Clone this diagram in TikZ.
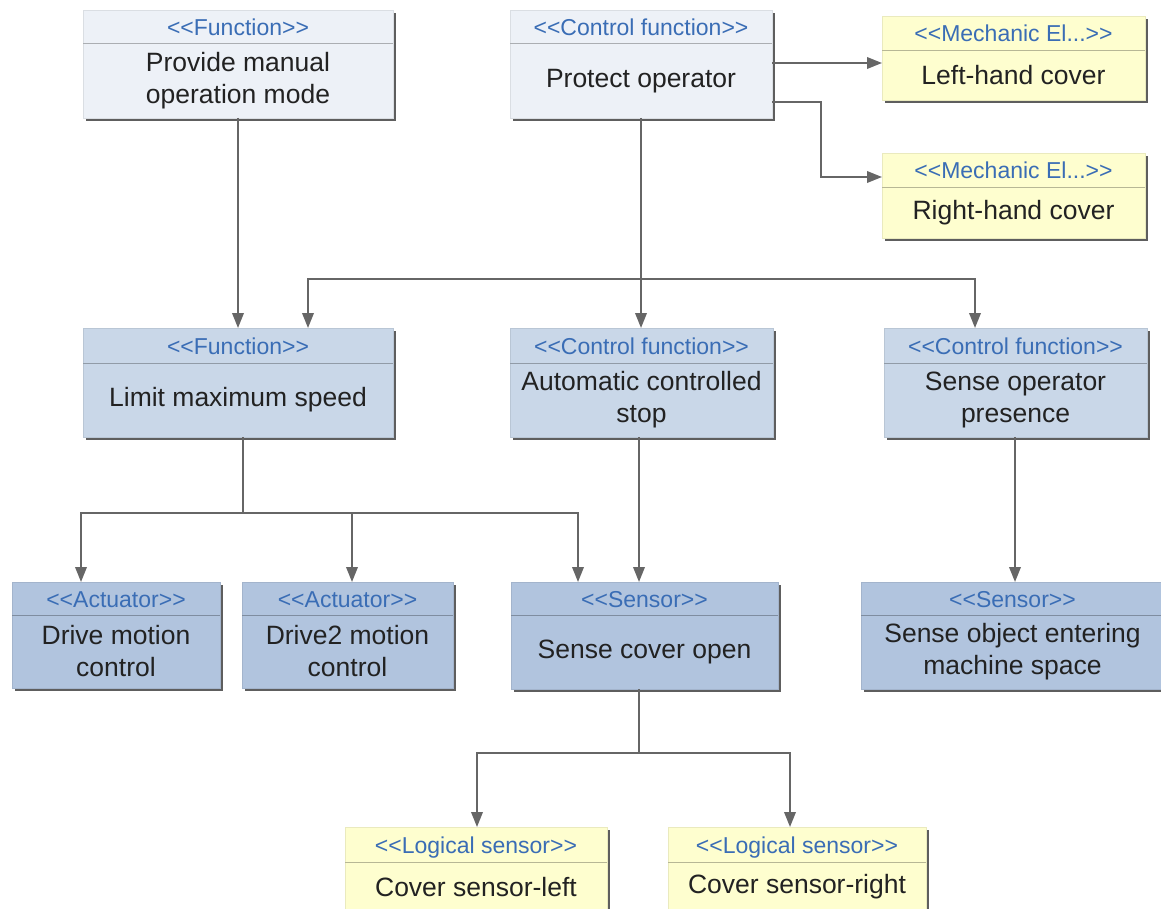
\documentclass[tikz,border=0pt]{standalone}
\usepackage{fontspec}
\setmainfont{Liberation Sans}
\usetikzlibrary{arrows.meta,shadows,calc}
\definecolor{cLight}{HTML}{EDF1F7}
\definecolor{cYel}{HTML}{FEFECF}
\definecolor{cMid}{HTML}{C9D7E8}
\definecolor{cDark}{HTML}{B1C4DE}
\definecolor{cSter}{HTML}{3A6DB5}
\definecolor{cText}{HTML}{222222}
\definecolor{cLine}{HTML}{666666}
\definecolor{cShad}{HTML}{5E5E5E}
\tikzset{
  umlbox/.style={rectangle, inner sep=0pt, outer sep=0pt, draw=#1!92!black, line width=0.4pt, fill=#1,
    drop shadow={shadow xshift=2.8pt, shadow yshift=-2.8pt, fill=cShad, opacity=1, draw=none}},
  hdrline/.style={line width=1pt},
  stereo/.style={inner sep=0pt, text=cSter, font=\fontsize{23}{28}\selectfont, text height=17pt, text depth=0pt},
  maintext/.style={inner sep=0pt, text=cText, align=center, font=\fontsize{26.5}{32}\selectfont},
  conn/.style={draw=cLine, line width=2pt, -{Triangle[length=15pt,width=11.5pt]}},
  wire/.style={draw=cLine, line width=2pt}
}
\newcommand\umlbox[9]{%
  \node[umlbox=#7, minimum width={#4-#2}, minimum height={#5-#3}] (#1) at ({(#2+#4)/2},{(#3+#5)/2}) {};
  \draw[hdrline, draw=#7!72!black] (#2,#6) -- (#4,#6);
  \node[stereo] (#1-st) at ({(#2+#4)/2},{(#3+#6)/2}) {<{}<#8>{}>};
  \node[maintext] (#1-tx) at ({(#2+#4)/2},{(#6+#5)/2}) {#9};
}
\begin{document}
\begin{tikzpicture}[x=1pt,y=-1pt]
\useasboundingbox (0,0) rectangle (1161,909);
\clip (0,0) rectangle (1161,909);
\fill[white] (0,0) rectangle (1161,909);

\umlbox{prov}{83}{10}{393}{118}{44}{cLight}{Function}{Provide manual\\operation mode}
\umlbox{prot}{510}{10}{772}{118}{44}{cLight}{Control function}{Protect operator}
\umlbox{lcov}{882}{16}{1145}{100}{51}{cYel}{Mechanic El...}{Left-hand cover}
\umlbox{rcov}{882}{153}{1145}{238}{188}{cYel}{Mechanic El...}{Right-hand cover}
\umlbox{lim}{83}{328}{393}{437}{363}{cMid}{Function}{Limit maximum speed}
\umlbox{acs}{510}{328}{773}{437}{363}{cMid}{Control function}{Automatic controlled\\stop}
\umlbox{sop}{884}{328}{1147}{437}{363}{cMid}{Control function}{Sense operator\\presence}
\umlbox{drv}{12}{582}{220}{688}{615}{cDark}{Actuator}{Drive motion\\control}
\umlbox{drvb}{242}{582}{453}{688}{615}{cDark}{Actuator}{Drive2 motion\\control}
\umlbox{scov}{511}{582}{778}{689}{615}{cDark}{Sensor}{Sense cover open}
\umlbox{sobj}{861}{582}{1164}{689}{615}{cDark}{Sensor}{Sense object entering\\machine space}
\umlbox{covl}{345}{827}{607}{912}{862}{cYel}{Logical sensor}{Cover sensor-left}
\umlbox{covr}{668}{827}{926}{912}{862}{cYel}{Logical sensor}{Cover sensor-right}

% junction points
\coordinate (pj) at (prot.south |- 0,279);
\coordinate (lj) at (243,513);
\coordinate (sj) at (639,753);
\coordinate (rbend) at (821,177);

% Provide -> Limit
\draw[conn] (prov.south) -- (lim.north);
% Protect -> covers
\draw[conn] (prot.east |- 0,63) -- (lcov.west |- 0,63);
\draw[conn] (prot.east |- 0,102) -| (rbend) -- (rcov.west |- rbend);
% Protect -> row 2
\draw[conn] (prot.south) -- (acs.north -| prot.south);
\draw[conn] (pj) -| (lim.north -| 308,0);
\draw[conn] (pj) -| (sop.north -| 975,0);
% Limit -> row 3
\draw[wire] (lim.south -| lj) -- (lj);
\draw[conn] (lj) -| (drv.north -| 81,0);
\draw[conn] (lj) -| (drvb.north -| 352,0);
\draw[conn] (lj) -| (scov.north -| 578,0);
% Automatic stop -> Sense cover open
\draw[conn] (acs.south -| 639,0) -- (scov.north -| 639,0);
% Sense operator -> Sense object
\draw[conn] (sop.south -| 1015,0) -- (sobj.north -| 1015,0);
% Sense cover open -> logical sensors
\draw[wire] (scov.south -| sj) -- (sj);
\draw[conn] (sj) -| (covl.north -| 477,0);
\draw[conn] (sj) -| (covr.north -| 790,0);
\end{tikzpicture}
\end{document}
